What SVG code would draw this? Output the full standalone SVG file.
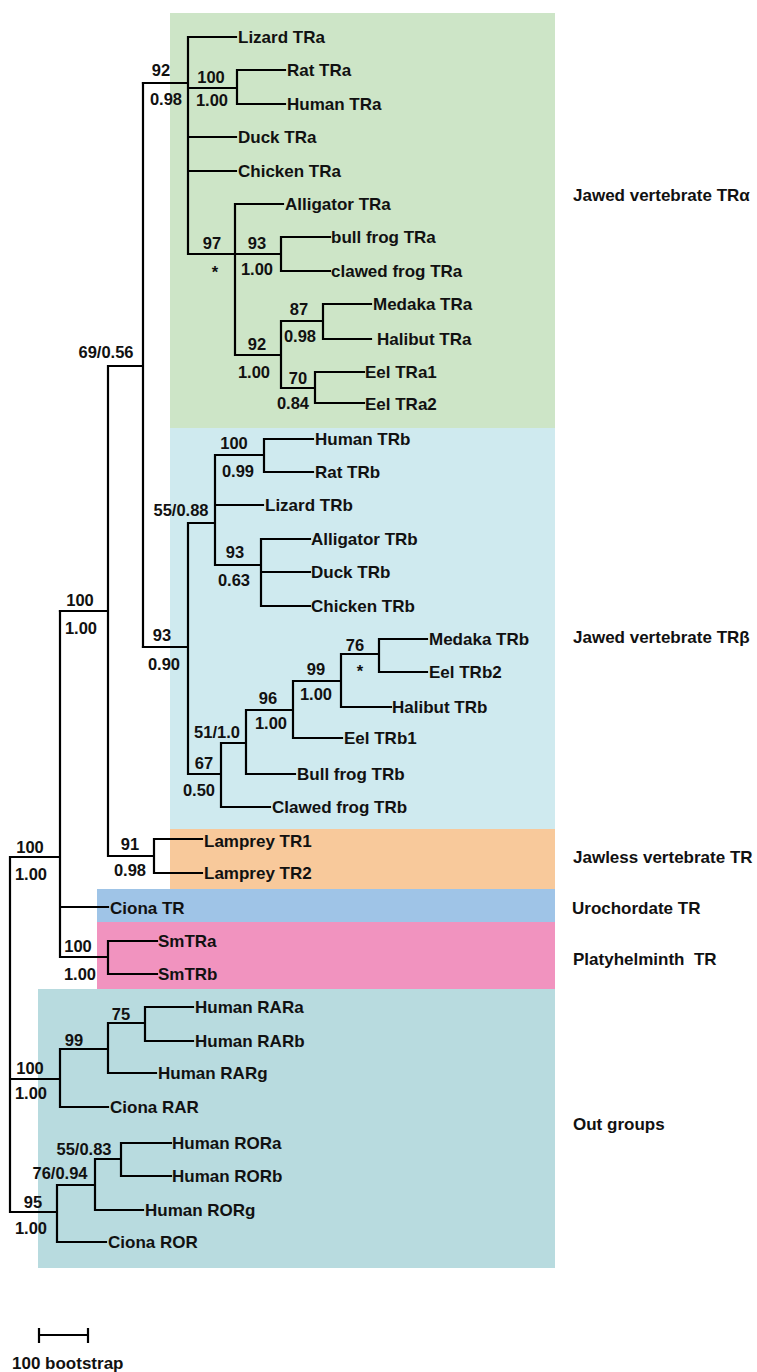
<svg xmlns="http://www.w3.org/2000/svg" width="757" height="1372" viewBox="0 0 757 1372">
<style>
text{font-family:"Liberation Sans",Arial,sans-serif;font-weight:bold;fill:#111;}
.leaf{font-size:17px;}
.sup{font-size:16.5px;text-anchor:middle;}
.clade{font-size:17px;white-space:pre;}
.edge{fill:none;stroke:#000;stroke-width:2.2;stroke-linecap:square;}
</style>
<rect width="757" height="1372" fill="#fff"/>
<g id="backgrounds">
<rect x="170" y="13" width="385" height="415" fill="#cde5c7"/>
<rect x="170" y="428" width="385" height="401" fill="#cfeaef"/>
<rect x="170" y="829" width="385" height="60" fill="#f8c99b"/>
<rect x="97" y="889" width="458" height="33" fill="#9fc4e7"/>
<rect x="97" y="922" width="458" height="67" fill="#f193bf"/>
<rect x="38" y="989" width="517" height="279" fill="#b8dbdf"/>
</g>
<g id="connectors" class="edge">
<path d="M143,83 H188 M188,37 V254 M188,37 H236 M188,88 H237 M237,70 V104 M237,70 H285 M237,104 H285 M188,137 H236 M188,171 H236 M188,254 H235 M235,204 V355 M235,204 H283 M235,254 H281 M281,237 V271 M281,237 H330 M281,271 H330 M235,355 H281 M281,321 V388 M281,321 H323 M323,304 V339 M323,304 H371 M323,339 H371 M281,388 H315 M315,372 V403 M315,372 H364 M315,403 H364"/>
<path d="M143,83 V647 M108,366 H143 M108,366 V856 M60,611 H108 M108,856 H154 M154,839 V873 M154,839 H202 M154,873 H202"/>
<path d="M143,647 H188 M188,523 V774 M188,523 H215 M215,455 V565 M215,455 H264 M264,439 V472 M264,439 H313 M264,472 H313 M215,505 H263 M215,565 H261 M261,539 V606 M261,539 H310 M261,572 H310 M261,606 H310 M188,774 H221 M221,743 V807 M221,807 H270 M221,743 H246 M246,710 V774 M246,774 H295 M246,710 H293 M293,681 V738 M293,738 H342 M293,681 H341 M341,654 V707 M341,707 H391 M341,654 H379 M379,639 V672 M379,639 H427 M379,672 H427"/>
<path d="M60,611 V957 M10,857 H60 M60,907 H108 M60,957 H108 M108,941 V974 M108,941 H157 M108,974 H157 M10,857 V1212 M10,1079 H60 M60,1049 V1107 M60,1107 H108 M60,1049 H108 M108,1023 V1073 M108,1073 H156 M108,1023 H145 M145,1007 V1041 M145,1007 H193 M145,1041 H193 M10,1212 H57 M57,1185 V1242 M57,1242 H106 M57,1185 H95 M95,1159 V1210 M95,1210 H143 M95,1159 H121 M121,1143 V1176 M121,1143 H171 M121,1176 H171"/>
</g>
<g id="leaves" class="leaf">
<g id="leaf-lizard-tra"><text class="leaf" x="238" y="43">Lizard TRa</text></g>
<g id="leaf-rat-tra"><text class="leaf" x="287" y="76">Rat TRa</text></g>
<g id="leaf-human-tra"><text class="leaf" x="287" y="110">Human TRa</text></g>
<g id="leaf-duck-tra"><text class="leaf" x="238" y="143">Duck TRa</text></g>
<g id="leaf-chicken-tra"><text class="leaf" x="238" y="177">Chicken TRa</text></g>
<g id="leaf-alligator-tra"><text class="leaf" x="285" y="210">Alligator TRa</text></g>
<g id="leaf-bullfrog-tra"><text class="leaf" x="331" y="243">bull frog TRa</text></g>
<g id="leaf-clawedfrog-tra"><text class="leaf" x="331" y="277">clawed frog TRa</text></g>
<g id="leaf-medaka-tra"><text class="leaf" x="373" y="310">Medaka TRa</text></g>
<g id="leaf-halibut-tra"><text class="leaf" x="377" y="345">Halibut TRa</text></g>
<g id="leaf-eel-tra1"><text class="leaf" x="365" y="378">Eel TRa1</text></g>
<g id="leaf-eel-tra2"><text class="leaf" x="365" y="410">Eel TRa2</text></g>
<g id="leaf-human-trb"><text class="leaf" x="315" y="445">Human TRb</text></g>
<g id="leaf-rat-trb"><text class="leaf" x="315" y="478">Rat TRb</text></g>
<g id="leaf-lizard-trb"><text class="leaf" x="265" y="511">Lizard TRb</text></g>
<g id="leaf-alligator-trb"><text class="leaf" x="311" y="545">Alligator TRb</text></g>
<g id="leaf-duck-trb"><text class="leaf" x="311" y="578">Duck TRb</text></g>
<g id="leaf-chicken-trb"><text class="leaf" x="311" y="612">Chicken TRb</text></g>
<g id="leaf-medaka-trb"><text class="leaf" x="429" y="645">Medaka TRb</text></g>
<g id="leaf-eel-trb2"><text class="leaf" x="429" y="678">Eel TRb2</text></g>
<g id="leaf-halibut-trb"><text class="leaf" x="392" y="713">Halibut TRb</text></g>
<g id="leaf-eel-trb1"><text class="leaf" x="344" y="744">Eel TRb1</text></g>
<g id="leaf-bullfrog-trb"><text class="leaf" x="297" y="780">Bull frog TRb</text></g>
<g id="leaf-clawedfrog-trb"><text class="leaf" x="272" y="813">Clawed frog TRb</text></g>
<g id="leaf-lamprey-tr1"><text class="leaf" x="204" y="847">Lamprey TR1</text></g>
<g id="leaf-lamprey-tr2"><text class="leaf" x="204" y="879">Lamprey TR2</text></g>
<g id="leaf-ciona-tr"><text class="leaf" x="110" y="914">Ciona TR</text></g>
<g id="leaf-smtra"><text class="leaf" x="158" y="947">SmTRa</text></g>
<g id="leaf-smtrb"><text class="leaf" x="158" y="980">SmTRb</text></g>
<g id="leaf-human-rara"><text class="leaf" x="195" y="1013">Human RARa</text></g>
<g id="leaf-human-rarb"><text class="leaf" x="195" y="1047">Human RARb</text></g>
<g id="leaf-human-rarg"><text class="leaf" x="158" y="1079">Human RARg</text></g>
<g id="leaf-ciona-rar"><text class="leaf" x="110" y="1113">Ciona RAR</text></g>
<g id="leaf-human-rora"><text class="leaf" x="172" y="1149">Human RORa</text></g>
<g id="leaf-human-rorb"><text class="leaf" x="172" y="1182">Human RORb</text></g>
<g id="leaf-human-rorg"><text class="leaf" x="145" y="1216">Human RORg</text></g>
<g id="leaf-ciona-ror"><text class="leaf" x="108" y="1248">Ciona ROR</text></g>
</g>
<g id="support-labels">
<g id="n-tra"><text class="sup" x="161" y="76">92</text><text class="sup" x="166" y="105">0.98</text></g>
<g id="n-mammal-tra"><text class="sup" x="211" y="83">100</text><text class="sup" x="212" y="106">1.00</text></g>
<g id="n-97"><text class="sup" x="212" y="249">97</text><text class="sup" x="215" y="278">*</text></g>
<g id="n-frog-tra"><text class="sup" x="257" y="249">93</text><text class="sup" x="257" y="275">1.00</text></g>
<g id="n-fish-tra1"><text class="sup" x="299" y="315">87</text><text class="sup" x="300" y="342">0.98</text></g>
<g id="n-fish-tra"><text class="sup" x="257" y="350">92</text><text class="sup" x="254" y="378">1.00</text></g>
<g id="n-eel-tra"><text class="sup" x="298" y="384">70</text><text class="sup" x="293" y="409">0.84</text></g>
<g id="n-jawed"><text class="sup" x="106" y="358">69/0.56</text></g>
<g id="n-mammal-trb"><text class="sup" x="234" y="449">100</text><text class="sup" x="238" y="477">0.99</text></g>
<g id="n-amniote-trb"><text class="sup" x="181" y="516">55/0.88</text></g>
<g id="n-sauria-trb"><text class="sup" x="235" y="558">93</text><text class="sup" x="234" y="586">0.63</text></g>
<g id="n-vert"><text class="sup" x="80" y="606">100</text><text class="sup" x="81" y="634">1.00</text></g>
<g id="n-trb"><text class="sup" x="162" y="641">93</text><text class="sup" x="164" y="670">0.90</text></g>
<g id="n-76"><text class="sup" x="355" y="651">76</text><text class="sup" x="360" y="677">*</text></g>
<g id="n-fish-trb"><text class="sup" x="316" y="675">99</text><text class="sup" x="316" y="700">1.00</text></g>
<g id="n-teleost-trb"><text class="sup" x="268" y="704">96</text><text class="sup" x="271" y="729">1.00</text></g>
<g id="n-51"><text class="sup" x="217" y="738">51/1.0</text></g>
<g id="n-67"><text class="sup" x="204" y="769">67</text><text class="sup" x="199" y="796">0.50</text></g>
<g id="n-lamprey"><text class="sup" x="130" y="850">91</text><text class="sup" x="130" y="876">0.98</text></g>
<g id="n-tr"><text class="sup" x="30" y="853">100</text><text class="sup" x="31" y="880">1.00</text></g>
<g id="n-smtr"><text class="sup" x="78" y="952">100</text><text class="sup" x="80" y="980">1.00</text></g>
<g id="n-75"><text class="sup" x="121" y="1020">75</text></g>
<g id="n-99"><text class="sup" x="74" y="1046">99</text></g>
<g id="n-rar"><text class="sup" x="30" y="1074">100</text><text class="sup" x="31" y="1099">1.00</text></g>
<g id="n-ror-ab"><text class="sup" x="84" y="1155">55/0.83</text></g>
<g id="n-ror-abg"><text class="sup" x="60" y="1179">76/0.94</text></g>
<g id="n-ror"><text class="sup" x="33" y="1208">95</text><text class="sup" x="31" y="1234">1.00</text></g>
</g>
<g id="clade-labels">
<g id="clade-tra"><text class="clade" x="573" y="201">Jawed vertebrate TRα</text></g>
<g id="clade-trb"><text class="clade" x="573" y="643">Jawed vertebrate TRβ</text></g>
<g id="clade-jawless"><text class="clade" x="573" y="863">Jawless vertebrate TR</text></g>
<g id="clade-uro"><text class="clade" x="572" y="914">Urochordate TR</text></g>
<g id="clade-platy"><text class="clade" x="573" y="965" xml:space="preserve">Platyhelminth  TR</text></g>
<g id="clade-out"><text class="clade" x="573" y="1130">Out groups</text></g>
</g>
<g id="scale-bar">
<path class="edge" d="M39,1335 H88 M39,1329 V1342 M88,1329 V1342"/>
<text class="leaf" x="12" y="1369">100 bootstrap</text>
</g>
</svg>
